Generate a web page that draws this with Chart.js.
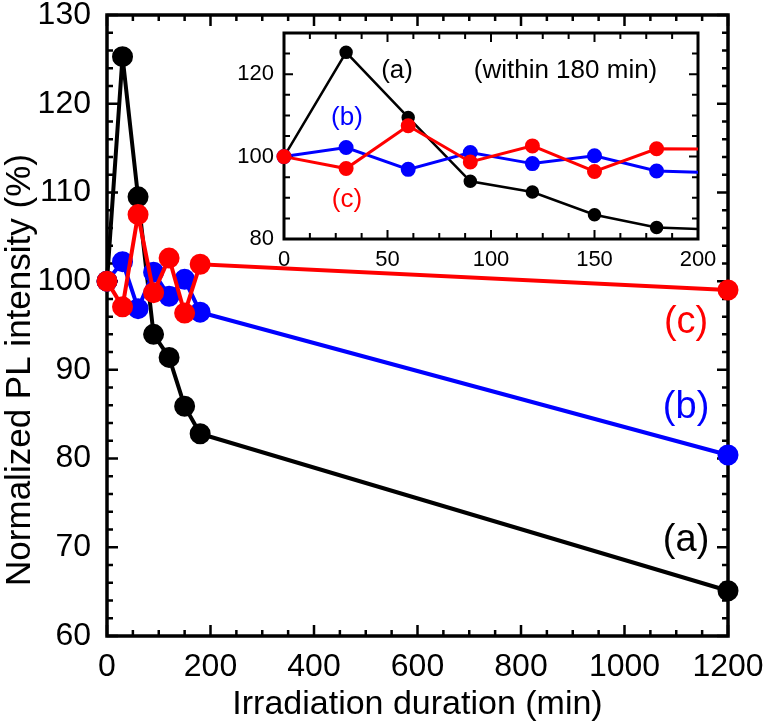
<!DOCTYPE html>
<html>
<head>
<meta charset="utf-8">
<script src="https://cdn.jsdelivr.net/npm/chart.js@4"></script>
<style>
body{margin:0;background:#fff}
#wrap{position:relative;width:767px;height:728px}
#main{position:absolute;left:0;top:0}
#inset{position:absolute;left:230px;top:20px}
</style>
</head>
<body>
<div id="wrap">
<canvas id="main" width="767" height="728"></canvas>
<canvas id="inset" width="520" height="270"></canvas>
</div>
<script>
// irradiation time (min)
const times = [0, 30, 60, 90, 120, 150, 180, 1200];
// normalized PL intensity (%)
const seriesA = [100, 125.3, 109.5, 94.0, 91.4, 85.9, 82.8, 65.1];
const seriesB = [100, 102.2, 96.9, 101.0, 98.3, 100.2, 96.5, 80.4];
const seriesC = [100, 97.1, 107.5, 98.7, 102.6, 96.4, 101.9, 99.0];
const seriesNames = ['(a)', '(b)', '(c)'];
const mainXTicks = [0, 200, 400, 600, 800, 1000, 1200];
const mainYTicks = [60, 70, 80, 90, 100, 110, 120, 130];
const insetXTicks = [0, 50, 100, 150, 200];
const insetYTicks = [80, 100, 120];

const BLACK = '#000000', BLUE = '#0000ff', RED = '#ff0000';
const FONT = '"Liberation Sans", Arial, sans-serif';
Chart.defaults.font.family = FONT;
Chart.defaults.color = '#000';

function pts(vals){
	return times.map((t, i) => ({x: t, y: vals[i]}));
}

function isMajor(v, step){
	return Math.abs(v/step - Math.round(v/step)) < 1e-6;
}

// box frame with inward ticks on all four sides
function frameTicks(o){
	return {
		id: 'frameTicks',
		beforeDraw(chart){
			if(!o.fill) return;
			const a = chart.chartArea, ctx = chart.ctx;
			ctx.save();
			ctx.fillStyle = '#fff';
			ctx.fillRect(a.left, a.top, a.width, a.height);
			ctx.restore();
		},
		beforeDatasetsDraw(chart){
			const {ctx, chartArea: a, scales: {x, y}} = chart;
			ctx.save();
			ctx.strokeStyle = '#000';
			ctx.lineWidth = o.tickWidth;
			ctx.beginPath();
			for(let v = x.min; v <= x.max + 1e-9; v += o.xMinor){
				const p = x.getPixelForValue(v);
				const len = isMajor(v, o.xMajor) ? o.major : o.minor;
				ctx.moveTo(p, a.bottom); ctx.lineTo(p, a.bottom - len);
				ctx.moveTo(p, a.top); ctx.lineTo(p, a.top + len);
			}
			for(let v = y.min; v <= y.max + 1e-9; v += o.yMinor){
				const p = y.getPixelForValue(v);
				const len = isMajor(v, o.yMajor) ? o.major : o.minor;
				ctx.moveTo(a.left, p); ctx.lineTo(a.left + len, p);
				ctx.moveTo(a.right, p); ctx.lineTo(a.right - len, p);
			}
			ctx.stroke();
			ctx.lineWidth = o.frameWidth;
			ctx.strokeRect(a.left, a.top, a.width, a.height);
			ctx.restore();
		}
	};
}

// text labels placed in data coordinates
function textLabels(items){
	return {
		id: 'textLabels',
		afterDatasetsDraw(chart){
			const {ctx, scales: {x, y}} = chart;
			ctx.save();
			ctx.textAlign = 'center';
			ctx.textBaseline = 'middle';
			items.forEach(it => {
				ctx.font = it.size + 'px ' + FONT;
				ctx.fillStyle = it.color;
				ctx.fillText(it.text, x.getPixelForValue(it.x), y.getPixelForValue(it.y));
			});
			ctx.restore();
		}
	};
}

// rotated y axis title, centred a bit below the middle like the original figure
const yTitle = {
	id: 'yTitle',
	afterDraw(chart){
		const ctx = chart.ctx;
		ctx.save();
		ctx.translate(20, 370);
		ctx.rotate(-Math.PI/2);
		ctx.font = '35px ' + FONT;
		ctx.fillStyle = '#000';
		ctx.textAlign = 'center';
		ctx.textBaseline = 'middle';
		ctx.fillText('Normalized PL intensity (%)', 0, 0);
		ctx.restore();
	}
};

function makeDatasets(r, w, rBlack, wBlack, clip){
	return [
		{data: pts(seriesC), borderColor: RED, backgroundColor: RED, pointRadius: r, borderWidth: w, clip: clip},
		{data: pts(seriesB), borderColor: BLUE, backgroundColor: BLUE, pointRadius: r, borderWidth: w, clip: clip},
		{data: pts(seriesA), borderColor: BLACK, backgroundColor: BLACK, pointRadius: rBlack, borderWidth: wBlack, clip: clip}
	];
}

function keepTicks(list){
	return function(scale){
		scale.ticks = list.map(v => ({value: v}));
	};
}

function fixX(h){
	return function(scale){ scale.height = h; scale.paddingLeft = 0; scale.paddingRight = 0; };
}
function fixY(w){
	return function(scale){ scale.width = w; scale.paddingTop = 0; scale.paddingBottom = 0; };
}

const plain = v => String(v);

new Chart(document.getElementById('main').getContext('2d'), {
	type: 'line',
	data: {datasets: makeDatasets(8.5, 4, 8.5, 4, false)},
	options: {
		responsive: false,
		animation: false,
		layout: {padding: {top: 15, right: 39, left: 0, bottom: 0}},
		plugins: {legend: {display: false}, tooltip: {enabled: false}},
		elements: {line: {tension: 0}, point: {borderWidth: 0}},
		scales: {
			x: {
				type: 'linear', min: 0, max: 1200,
				grid: {display: false, drawTicks: false}, border: {display: false},
				ticks: {font: {size: 32}, padding: 12, maxRotation: 0, autoSkip: false, callback: plain},
				afterBuildTicks: keepTicks(mainXTicks),
				afterFit: fixX(92),
				title: {display: true, text: 'Irradiation duration (min)', font: {size: 34}, padding: {top: 0, bottom: 3}}
			},
			y: {
				type: 'linear', min: 60, max: 130,
				grid: {display: false, drawTicks: false}, border: {display: false},
				ticks: {font: {size: 32}, padding: 16, autoSkip: false, callback: plain},
				afterBuildTicks: keepTicks(mainYTicks),
				afterFit: fixY(107)
			}
		}
	},
	plugins: [
		frameTicks({xMinor: 50, xMajor: 200, yMinor: 2, yMajor: 10, major: 11, minor: 6, tickWidth: 2.5, frameWidth: 3.5}),
		textLabels([
			{text: seriesNames[2], x: 1119, y: 95.3, color: RED, size: 38},
			{text: seriesNames[1], x: 1119, y: 85.8, color: BLUE, size: 38},
			{text: seriesNames[0], x: 1119, y: 70.8, color: BLACK, size: 38}
		]),
		yTitle
	]
});

new Chart(document.getElementById('inset').getContext('2d'), {
	type: 'line',
	data: {datasets: makeDatasets(6, 3, 5.5, 2.5, {left: 8, top: 0, right: 0, bottom: 0})},
	options: {
		responsive: false,
		animation: false,
		layout: {padding: {top: 13, right: 52, left: 0, bottom: 0}},
		plugins: {legend: {display: false}, tooltip: {enabled: false}},
		elements: {line: {tension: 0}, point: {borderWidth: 0}},
		scales: {
			x: {
				type: 'linear', min: 0, max: 200,
				grid: {display: false, drawTicks: false}, border: {display: false},
				ticks: {font: {size: 22}, padding: 8, maxRotation: 0, autoSkip: false, callback: plain},
				afterBuildTicks: keepTicks(insetXTicks),
				afterFit: fixX(51)
			},
			y: {
				type: 'linear', min: 80, max: 130,
				grid: {display: false, drawTicks: false}, border: {display: false},
				ticks: {font: {size: 22}, padding: 10, autoSkip: false, callback: plain},
				afterBuildTicks: keepTicks(insetYTicks),
				afterFit: fixY(54)
			}
		}
	},
	plugins: [
		frameTicks({fill: true, xMinor: 12.5, xMajor: 50, yMinor: 5, yMajor: 20, major: 9, minor: 6, tickWidth: 2, frameWidth: 3}),
		textLabels([
			{text: seriesNames[0], x: 54.6, y: 120.7, color: BLACK, size: 26},
			{text: '(within 180 min)', x: 136, y: 120.7, color: BLACK, size: 26},
			{text: seriesNames[1], x: 30.4, y: 109.4, color: BLUE, size: 26},
			{text: seriesNames[2], x: 30.4, y: 89.4, color: RED, size: 26}
		])
	]
});
</script>
</body>
</html>
